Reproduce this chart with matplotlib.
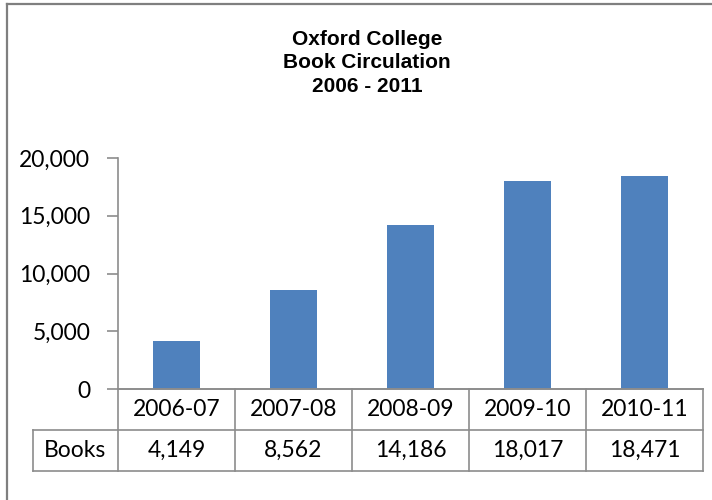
import matplotlib.pyplot as plt
import matplotlib.transforms as mtransforms
from matplotlib.lines import Line2D

years = ["2006-07", "2007-08", "2008-09", "2009-10", "2010-11"]
books = [4149, 8562, 14186, 18017, 18471]
series_name = "Books"
title_lines = ["Oxford College", "Book Circulation", "2006 - 2011"]
yticks = [0, 5000, 10000, 15000, 20000]

bar_color = "#4F81BD"
line_gray = "#8C8C8C"
body_font = ["Lato", "DejaVu Sans"]
fs = 16.5

fig = plt.figure(figsize=(7.12, 5.0), dpi=100)
ax = fig.add_axes([118 / 712, 1 - 389 / 500, (703 - 118) / 712, (389 - 158) / 500])

x = list(range(len(years)))
ax.bar(x, books, width=0.4, color=bar_color, zorder=2)
ax.set_xlim(-0.5, len(years) - 0.5)
ax.set_ylim(0, 20000)
ax.set_yticks(yticks)
ax.set_yticklabels([f"{v:,}" for v in yticks], fontsize=fs, family=body_font)
ax.set_xticks([])
ax.tick_params(axis="y", length=8, width=1.2, color=line_gray, pad=12)
for s in ["top", "right"]:
    ax.spines[s].set_visible(False)
for s in ["left", "bottom"]:
    ax.spines[s].set_color(line_gray)
    ax.spines[s].set_linewidth(1.2)

# data table under the chart
trans = mtransforms.blended_transform_factory(ax.transData, ax.transAxes)
row_h = 41 / 231
left_label = -0.5 - (118 - 33) / 117
kw = dict(color=line_gray, lw=1.2, transform=trans, clip_on=False)
ax.add_line(Line2D([-0.5, len(years) - 0.5], [0, 0], **kw))
ax.add_line(Line2D([left_label, len(years) - 0.5], [-row_h, -row_h], **kw))
ax.add_line(Line2D([left_label, len(years) - 0.5], [-2 * row_h, -2 * row_h], **kw))
for b in range(len(years) + 1):
    ax.add_line(Line2D([b - 0.5, b - 0.5], [0, -2 * row_h], **kw))
ax.add_line(Line2D([left_label, left_label], [-row_h, -2 * row_h], **kw))

for i, (yr, v) in enumerate(zip(years, books)):
    ax.text(i, -row_h / 2, yr, transform=trans, ha="center", va="center",
            fontsize=fs, family=body_font)
    ax.text(i, -1.5 * row_h, f"{v:,}", transform=trans, ha="center", va="center",
            fontsize=fs, family=body_font)
ax.text((left_label - 0.5) / 2, -1.5 * row_h, series_name, transform=trans,
        ha="center", va="center", fontsize=fs, family=body_font)

# title
fig.text(367 / 712, 1 - 63 / 500, "\n".join(title_lines), ha="center", va="center",
         fontsize=15, fontweight="bold", family=["Liberation Sans", "DejaVu Sans"],
         linespacing=1.3)

# chart frame (top and left edges visible)
fig.add_artist(Line2D([7 / 712, 1], [1 - 4 / 500, 1 - 4 / 500], color="#7F7F7F",
                      lw=1.6, transform=fig.transFigure))
fig.add_artist(Line2D([7 / 712, 7 / 712], [0, 1 - 4 / 500], color="#7F7F7F",
                      lw=1.6, transform=fig.transFigure))

fig.savefig("out.png", dpi=100)
